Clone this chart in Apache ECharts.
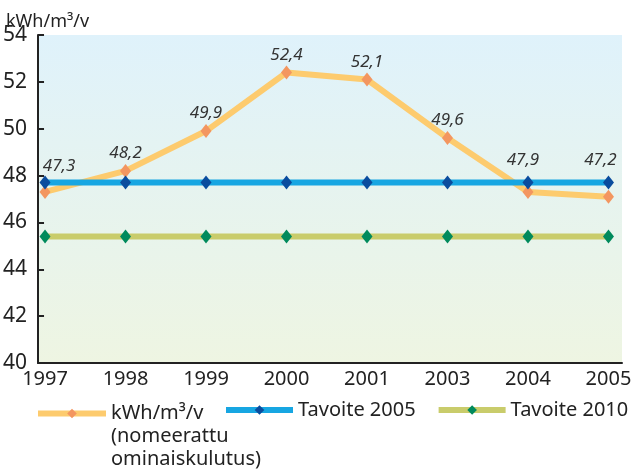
<!DOCTYPE html>
<html><head><meta charset="utf-8">
<script src="https://cdn.jsdelivr.net/npm/echarts@6/dist/echarts.min.js"></script>
<style>html,body{margin:0;padding:0;background:#fff}#c{width:637px;height:470px}</style>
</head><body><div id="c"></div>
<script>
const categories = ['1997','1998','1999','2000','2001','2003','2004','2005'];
const kulutus = [47.3, 48.2, 49.9, 52.4, 52.1, 49.6, 47.3, 47.1];
const kulutusLabels = ['47,3','48,2','49,9','52,4','52,1','49,6','47,9','47,2'];
const tavoite2005 = [47.7, 47.7, 47.7, 47.7, 47.7, 47.7, 47.7, 47.7];
const tavoite2010 = [45.4, 45.4, 45.4, 45.4, 45.4, 45.4, 45.4, 45.4];
const yTicks = [40, 42, 44, 46, 48, 50, 52, 54];

const font = 'Noto Sans';
const toPts = arr => arr.map((v, i) => [i, v]);
const labelShift = { 0: { dx: 14, dy: -8 }, 6: { dx: -5, dy: -14 }, 7: { dx: -8, dy: -19 } };

const chart = echarts.init(document.getElementById('c'));
chart.setOption({
  animation: false,
  textStyle: { fontFamily: font },
  title: {
    text: 'kWh/m³/v', left: 1, top: 8,
    textStyle: { fontSize: 18, fontWeight: 'normal', color: '#222', fontFamily: font }
  },
  grid: {
    left: 38, right: 15, top: 35, bottom: 107,
    show: true, borderWidth: 0,
    backgroundColor: new echarts.graphic.LinearGradient(0, 0, 0, 1, [
      { offset: 0, color: '#dff2fb' }, { offset: 1, color: '#eef5e2' }
    ])
  },
  xAxis: {
    type: 'value', min: -0.087, max: 7.168,
    splitLine: { show: false },
    axisLine: { show: true, onZero: false, lineStyle: { color: '#222', width: 2 } },
    axisTick: { show: false },
    axisLabel: {
      customValues: categories.map((c, i) => i),
      formatter: v => categories[Math.round(v)],
      fontSize: 20, color: '#222', margin: 6, fontFamily: font
    }
  },
  yAxis: {
    type: 'value', min: 40, max: 54, interval: 2,
    splitLine: { show: false },
    axisLine: { show: true, onZero: false, lineStyle: { color: '#222', width: 2 } },
    axisTick: { show: true, inside: true, length: 6, lineStyle: { color: '#222', width: 2 } },
    axisLabel: { fontSize: 21, color: '#222', margin: 11, fontFamily: font,
      formatter: v => yTicks.includes(v) ? String(v) : '' }
  },
  legend: [
    {
      left: 30, top: 351, itemWidth: 68, itemHeight: 12,
      selectedMode: false,
      lineStyle: { width: 6 },
      textStyle: { fontSize: 20, color: '#222', fontFamily: font, lineHeight: 23 },
      formatter: () => ' \n \nkWh/m³/v\n(nomeerattu\nominaiskulutus)',
      data: ['kWh/m³/v']
    },
    {
      left: 218, top: 395, itemWidth: 67, itemHeight: 12, itemGap: 20,
      selectedMode: false,
      lineStyle: { width: 6 },
      textStyle: { fontSize: 20, color: '#222', fontFamily: font },
      data: ['Tavoite 2005', 'Tavoite 2010']
    }
  ],
  series: [
    {
      name: 'kWh/m³/v', type: 'line', data: toPts(kulutus),
      lineStyle: { color: '#fdcb6e', width: 6 },
      itemStyle: { color: '#f39660' },
      symbol: 'diamond', symbolSize: [11, 14],
      z: 2,
      label: {
        show: true, position: 'top', distance: 2,
        formatter: p => kulutusLabels[p.dataIndex],
        fontSize: 17, fontStyle: 'italic', color: '#333', fontFamily: font
      },
      labelLayout: p => labelShift[p.dataIndex] || {}
    },
    {
      name: 'Tavoite 2005', type: 'line', data: toPts(tavoite2005),
      lineStyle: { color: '#17a6e2', width: 6 },
      itemStyle: { color: '#0a4c9e' },
      symbol: 'diamond', symbolSize: [11, 14], z: 3
    },
    {
      name: 'Tavoite 2010', type: 'line', data: toPts(tavoite2010),
      lineStyle: { color: '#c9cc6b', width: 6 },
      itemStyle: { color: '#008a5c' },
      symbol: 'diamond', symbolSize: [11, 14], z: 3
    }
  ]
});
</script></body></html>
